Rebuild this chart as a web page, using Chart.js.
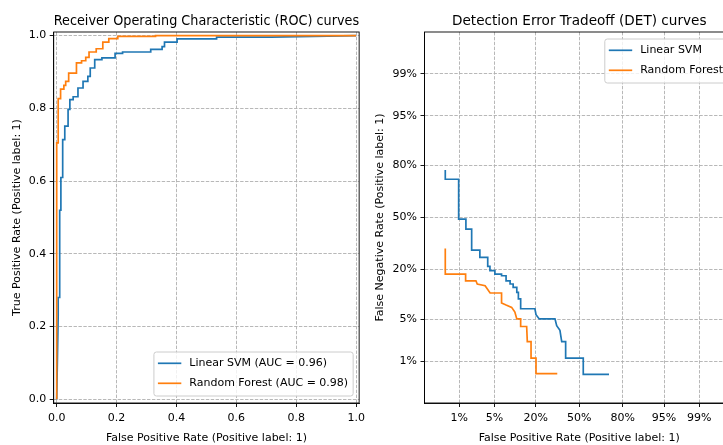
<!DOCTYPE html>
<html>
<head>
<meta charset="utf-8">
<script src="https://cdn.jsdelivr.net/npm/chart.js@4.4.1/dist/chart.umd.min.js"></script>
<style>
  html, body { margin: 0; padding: 0; background: #fff; overflow: hidden; }
  #page { position: relative; width: 723px; height: 445px; overflow: hidden; background: #fff; }
  .panel { position: absolute; top: 0; }
  #rocBox { left: 0; }
  #detBox { left: 370px; }
</style>
</head>
<body>
<div id="page">
  <div class="panel" id="rocBox"><canvas id="rocChart" width="370" height="445"></canvas></div>
  <div class="panel" id="detBox"><canvas id="detChart" width="390" height="445"></canvas></div>
</div>
<script>
/* ==========================================================
   DATA
========================================================== */

const modelNames = ["Linear SVM", "Random Forest"];
const aucValues = [0.96, 0.98];
const lineColors = ["#1f77b4", "#ff7f0e"];

// ROC curve vertices
const rocSvmFpr = [0, 0.005, 0.005, 0.01, 0.01, 0.014, 0.014, 0.02, 0.02, 0.027, 0.027, 0.038, 0.038, 0.044, 0.044, 0.055, 0.055, 0.071, 0.071, 0.088, 0.088, 0.104, 0.104, 0.112, 0.112, 0.127, 0.127, 0.151, 0.151, 0.195, 0.195, 0.22, 0.22, 0.314, 0.314, 0.352, 0.352, 0.36, 0.36, 0.402, 0.402, 0.534, 0.534, 0.716, 1];
const rocSvmTpr = [0, 0.23, 0.28, 0.28, 0.52, 0.52, 0.61, 0.61, 0.714, 0.714, 0.751, 0.751, 0.797, 0.797, 0.824, 0.824, 0.832, 0.832, 0.856, 0.856, 0.874, 0.874, 0.888, 0.888, 0.911, 0.911, 0.934, 0.934, 0.939, 0.939, 0.951, 0.951, 0.955, 0.955, 0.962, 0.962, 0.97, 0.97, 0.982, 0.982, 0.991, 0.991, 0.996, 0.996, 1];

const rocForestFpr = [0, 0, 0.005, 0.005, 0.013, 0.013, 0.024, 0.024, 0.03, 0.03, 0.04, 0.04, 0.066, 0.066, 0.083, 0.083, 0.097, 0.097, 0.108, 0.108, 0.132, 0.132, 0.154, 0.154, 0.174, 0.174, 0.204, 0.204, 0.33, 0.33, 1];
const rocForestTpr = [0, 0.705, 0.705, 0.827, 0.827, 0.853, 0.853, 0.863, 0.863, 0.874, 0.874, 0.897, 0.897, 0.925, 0.925, 0.931, 0.931, 0.94, 0.94, 0.955, 0.955, 0.964, 0.964, 0.982, 0.982, 0.992, 0.992, 0.998, 0.998, 1, 1];

// DET curve vertices (false positive rate, false negative rate)
const detSvmFpr = [0.0047, 0.0047, 0.0097, 0.0097, 0.014, 0.014, 0.0185, 0.0185, 0.027, 0.027, 0.038, 0.038, 0.0417, 0.0417, 0.051, 0.051, 0.066, 0.066, 0.078, 0.078, 0.09, 0.09, 0.1, 0.1, 0.113, 0.113, 0.119, 0.119, 0.128, 0.128, 0.195, 0.201, 0.219, 0.319, 0.331, 0.354, 0.367, 0.396, 0.396, 0.531, 0.531, 0.718];
const detSvmFnr = [0.779, 0.732, 0.732, 0.489, 0.489, 0.425, 0.425, 0.299, 0.299, 0.259, 0.259, 0.215, 0.215, 0.195, 0.195, 0.18, 0.18, 0.173, 0.173, 0.153, 0.153, 0.141, 0.141, 0.129, 0.129, 0.113, 0.113, 0.094, 0.094, 0.07, 0.07, 0.058, 0.0505, 0.0505, 0.04, 0.034, 0.0224, 0.0224, 0.0115, 0.0115, 0.0056, 0.0056];

const detForestFpr = [0.0047, 0.0047, 0.0138, 0.0138, 0.0226, 0.024, 0.034, 0.042, 0.066, 0.066, 0.078, 0.095, 0.106, 0.113, 0.128, 0.128, 0.154, 0.157, 0.175, 0.175, 0.201, 0.201, 0.335];
const detForestFnr = [0.3085, 0.18, 0.18, 0.153, 0.153, 0.141, 0.135, 0.111, 0.111, 0.0835, 0.0785, 0.073, 0.063, 0.0505, 0.0505, 0.039, 0.039, 0.0224, 0.0224, 0.0115, 0.0115, 0.0058, 0.0058];

// Tick values and labels
const rocTicks = [0, 0.2, 0.4, 0.6, 0.8, 1.0];
const detTicks = [0.01, 0.05, 0.20, 0.50, 0.80, 0.95, 0.99];
const detTickLabels = ["1%", "5%", "20%", "50%", "80%", "95%", "99%"];

/* ==========================================================
   HELPERS
========================================================== */

// inverse normal CDF (Acklam), used as the DET axis transform
function probit(p) {
    const a = [-3.969683028665376e+01, 2.209460984245205e+02, -2.759285104469687e+02, 1.383577518672690e+02, -3.066479806614716e+01, 2.506628277459239e+00];
    const b = [-5.447609879822406e+01, 1.615858368580409e+02, -1.556989798598866e+02, 6.680131188771972e+01, -1.328068155288572e+01];
    const c = [-7.784894002430293e-03, -3.223964580411365e-01, -2.400758277161838e+00, -2.549732539343734e+00, 4.374664141464968e+00, 2.938163982698783e+00];
    const d = [7.784695709041462e-03, 3.224671290700398e-01, 2.445134137142996e+00, 3.754408661907416e+00];
    const pLow = 0.02425;
    let q, r;
    if (p < pLow) {
        q = Math.sqrt(-2 * Math.log(p));
        return (((((c[0] * q + c[1]) * q + c[2]) * q + c[3]) * q + c[4]) * q + c[5]) /
            ((((d[0] * q + d[1]) * q + d[2]) * q + d[3]) * q + 1);
    }
    if (p <= 1 - pLow) {
        q = p - 0.5;
        r = q * q;
        return (((((a[0] * r + a[1]) * r + a[2]) * r + a[3]) * r + a[4]) * r + a[5]) * q /
            (((((b[0] * r + b[1]) * r + b[2]) * r + b[3]) * r + b[4]) * r + 1);
    }
    q = Math.sqrt(-2 * Math.log(1 - p));
    return -(((((c[0] * q + c[1]) * q + c[2]) * q + c[3]) * q + c[4]) * q + c[5]) /
        ((((d[0] * q + d[1]) * q + d[2]) * q + d[3]) * q + 1);
}

function zipPoints(xs, ys, fx) {
    const f = fx ?? (v => v);
    return xs.map((x, i) => ({ x: f(x), y: f(ys[i]) }));
}

const FONT = "'DejaVu Sans', 'Liberation Sans', sans-serif";
const GRID = "#b0b0b0";

/* ==========================================================
   FRAME + LEGEND PLUGIN (matplotlib-like)
========================================================== */

const frameLegendPlugin = {

    id: "frameLegend",

    afterDatasetsDraw(chart, args, opts) {

        const { ctx, chartArea: { left, right, top, bottom } } = chart;

        ctx.save();

        // four spines
        ctx.strokeStyle = "#000";
        ctx.lineWidth = 0.9;
        ctx.strokeRect(left, top, right - left, bottom - top);

        if (!opts || !opts.labels) {
            ctx.restore();
            return;
        }

        ctx.font = "11px " + FONT;
        const textW = Math.max(...opts.labels.map(t => ctx.measureText(t).width));
        const boxW = 35.4 + textW + 5;
        const boxH = 44;
        const x0 = right - opts.insetX - boxW;
        const y0 = opts.corner === "upperRight"
            ? top + opts.insetY
            : bottom - opts.insetY - boxH;

        // rounded box
        const rad = 2.5;
        ctx.beginPath();
        ctx.moveTo(x0 + rad, y0);
        ctx.lineTo(x0 + boxW - rad, y0);
        ctx.arcTo(x0 + boxW, y0, x0 + boxW, y0 + rad, rad);
        ctx.lineTo(x0 + boxW, y0 + boxH - rad);
        ctx.arcTo(x0 + boxW, y0 + boxH, x0 + boxW - rad, y0 + boxH, rad);
        ctx.lineTo(x0 + rad, y0 + boxH);
        ctx.arcTo(x0, y0 + boxH, x0, y0 + boxH - rad, rad);
        ctx.lineTo(x0, y0 + rad);
        ctx.arcTo(x0, y0, x0 + rad, y0, rad);
        ctx.closePath();
        ctx.fillStyle = "rgba(255,255,255,0.8)";
        ctx.fill();
        ctx.strokeStyle = "#cccccc";
        ctx.lineWidth = 1;
        ctx.stroke();

        opts.labels.forEach((label, i) => {
            const yRow = y0 + 11.3 + i * 20;
            ctx.strokeStyle = chart.data.datasets[i].borderColor;
            ctx.lineWidth = 1.7;
            ctx.beginPath();
            ctx.moveTo(x0 + 4, yRow);
            ctx.lineTo(x0 + 27.4, yRow);
            ctx.stroke();
            ctx.fillStyle = "#000";
            ctx.textAlign = "left";
            ctx.textBaseline = "middle";
            ctx.fillText(label, x0 + 35.4, yRow);
        });

        ctx.restore();
    }
};

Chart.register(frameLegendPlugin);

/* ==========================================================
   SHARED AXIS STYLE
========================================================== */

function axisStyle(extra) {
    return Object.assign({
        type: "linear",
        grid: {
            color: GRID,
            lineWidth: 0.9,
            drawTicks: true,
            tickLength: 4,
            tickColor: "#000",
            tickWidth: 0.9,
            tickBorderDash: []
        },
        border: {
            display: true,
            color: "#000",
            width: 0.9,
            dash: [3.4, 1.5]
        },
        ticks: {
            color: "#000",
            font: { size: 11, family: FONT },
            maxRotation: 0,
            autoSkip: false
        }
    }, extra);
}

function baseOptions(titleText) {
    return {
        responsive: false,
        animation: false,
        devicePixelRatio: 1,
        events: [],
        elements: { point: { radius: 0 }, line: { tension: 0 } },
        plugins: {
            legend: { display: false },
            tooltip: { enabled: false },
            title: {
                display: true,
                text: titleText,
                fullSize: false,
                color: "#000",
                font: { size: 13.6, family: FONT, weight: "normal", lineHeight: 1.2 },
                padding: { top: 13, bottom: 2.68 }
            }
        }
    };
}

/* ==========================================================
   ROC CHART
========================================================== */

const rocOptions = baseOptions("Receiver Operating Characteristic (ROC) curves");
rocOptions.layout = { padding: { left: 0, right: 8, top: 0, bottom: 0 } };
rocOptions.plugins.frameLegend = {
    corner: "lowerRight",
    insetX: 6,
    insetY: 7,
    labels: modelNames.map((n, i) => `${n} (AUC = ${aucValues[i].toFixed(2)})`)
};

const rocX = axisStyle({
    min: -0.01,
    max: 1.01,
    afterBuildTicks: s => { s.ticks = rocTicks.map(v => ({ value: v })); },
    afterFit: s => { s.height = 42; },
    title: {
        display: true,
        text: "False Positive Rate (Positive label: 1)",
        color: "#000",
        font: { size: 11, family: FONT },
        padding: { top: 0, bottom: 0.4 }
    }
});
rocX.ticks = Object.assign({}, rocX.ticks, { padding: 5, callback: v => v.toFixed(1) });

const rocY = axisStyle({
    min: -0.01,
    max: 1.01,
    afterBuildTicks: s => { s.ticks = rocTicks.map(v => ({ value: v })); },
    afterFit: s => { s.width = 53.7; },
    title: {
        display: true,
        text: "True Positive Rate (Positive label: 1)",
        color: "#000",
        font: { size: 11, family: FONT },
        padding: { top: 10.9, bottom: 0 }
    }
});
rocY.ticks = Object.assign({}, rocY.ticks, { padding: 3.5, callback: v => v.toFixed(1) });

rocOptions.scales = { x: rocX, y: rocY };

new Chart(document.getElementById("rocChart"), {
    type: "line",
    data: {
        datasets: [
            {
                label: modelNames[0],
                data: zipPoints(rocSvmFpr, rocSvmTpr),
                borderColor: lineColors[0],
                borderWidth: 1.7,
                fill: false,
                order: 2
            },
            {
                label: modelNames[1],
                data: zipPoints(rocForestFpr, rocForestTpr),
                borderColor: lineColors[1],
                borderWidth: 1.7,
                fill: false,
                order: 1
            }
        ]
    },
    options: rocOptions
});

/* ==========================================================
   DET CHART
========================================================== */

const detOptions = baseOptions("Detection Error Tradeoff (DET) curves");
detOptions.layout = { padding: { left: 0, right: 26, top: 0, bottom: 0 } };
detOptions.plugins.frameLegend = {
    corner: "upperRight",
    insetX: 6,
    insetY: 7,
    labels: modelNames
};

const detX = axisStyle({
    min: -3,
    max: 3,
    afterBuildTicks: s => { s.ticks = detTicks.map(p => ({ value: probit(p) })); },
    afterFit: s => { s.height = 42; },
    title: {
        display: true,
        text: "False Positive Rate (Positive label: 1)",
        color: "#000",
        font: { size: 11, family: FONT },
        padding: { top: 0, bottom: 0.4 }
    }
});
detX.ticks = Object.assign({}, detX.ticks, { padding: 5, callback: (v, i) => detTickLabels[i] });

const detY = axisStyle({
    min: -3,
    max: 3,
    afterBuildTicks: s => { s.ticks = detTicks.map(p => ({ value: probit(p) })); },
    afterFit: s => { s.width = 54.5; },
    title: {
        display: true,
        text: "False Negative Rate (Positive label: 1)",
        color: "#000",
        font: { size: 11, family: FONT },
        padding: { top: 4, bottom: 0 }
    }
});
detY.ticks = Object.assign({}, detY.ticks, { padding: 3.5, callback: (v, i) => detTickLabels[i] });

detOptions.scales = { x: detX, y: detY };

new Chart(document.getElementById("detChart"), {
    type: "line",
    data: {
        datasets: [
            {
                label: modelNames[0],
                data: zipPoints(detSvmFpr, detSvmFnr, probit),
                borderColor: lineColors[0],
                borderWidth: 1.7,
                fill: false,
                order: 2
            },
            {
                label: modelNames[1],
                data: zipPoints(detForestFpr, detForestFnr, probit),
                borderColor: lineColors[1],
                borderWidth: 1.7,
                fill: false,
                order: 1
            }
        ]
    },
    options: detOptions
});
</script>
</body>
</html>
